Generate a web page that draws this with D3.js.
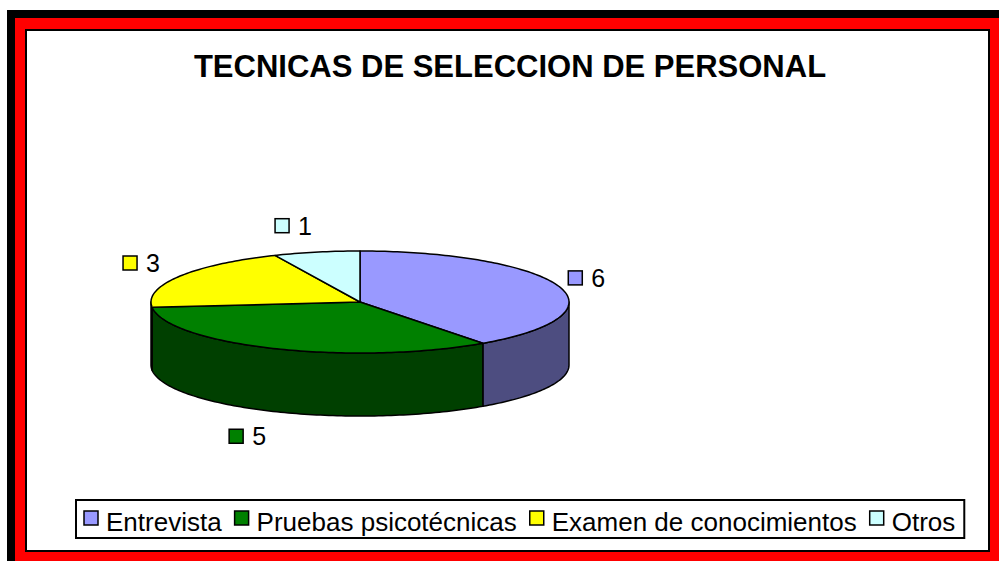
<!DOCTYPE html>
<html>
<head>
<meta charset="utf-8">
<script src="https://cdn.jsdelivr.net/npm/d3@7"></script>
<style>
  body { margin: 0; background: #fff; }
  text { font-family: Arial, "Liberation Sans", sans-serif; }
</style>
</head>
<body>
<div id="chart"></div>
<script>
// data
var categories = ["Entrevista", "Pruebas psicotécnicas", "Examen de conocimientos", "Otros"];
var values = [6, 5, 3, 1];
var topColors = ["#9999FF", "#008000", "#FFFF00", "#CCFFFF"];
var sideColors = ["#4D4D80", "#004000", "#808000", "#668080"];
var title = "TECNICAS DE SELECCION DE PERSONAL";

var W = 999, H = 561;

var svg = d3.select("#chart")
    .append("svg")
    .attr("width", W)
    .attr("height", H);

// frame: black shadow, red band, white plot area
svg.append("rect").attr("x", 7).attr("y", 10).attr("width", W - 7).attr("height", H - 10).attr("fill", "#000");
svg.append("rect").attr("x", 15).attr("y", 18).attr("width", W - 15).attr("height", H - 18).attr("fill", "#FF0000");
svg.append("rect").attr("x", 26).attr("y", 30).attr("width", 963).attr("height", 521)
    .attr("fill", "#fff").attr("stroke", "#000").attr("stroke-width", 2);

svg.append("text")
    .attr("x", 510).attr("y", 77)
    .attr("text-anchor", "middle")
    .style("font-size", "31px").style("font-weight", "bold")
    .text(title);

// pie geometry (3d ellipse)
var cx = 360, cy = 302, rx = 209, ry = 51, depth = 63;

var arcs = d3.pie().sort(null).value(function(d) { return d; })(values);

function pt(a, dy) {
  return [cx + rx * Math.sin(a), cy - ry * Math.cos(a) + (dy || 0)];
}
function arcPts(a0, a1, dy) {
  var n = Math.max(2, Math.ceil(Math.abs(a1 - a0) / 0.02));
  return d3.range(n + 1).map(function(i) { return pt(a0 + (a1 - a0) * i / n, dy); });
}
var line = d3.line().curve(d3.curveLinear);

var g = svg.append("g");

// side walls, only the front half shows
arcs.forEach(function(d, i) {
  var s = Math.max(d.startAngle, Math.PI / 2),
      e = Math.min(d.endAngle, 3 * Math.PI / 2);
  if (s >= e) return;
  var p = arcPts(s, e, 0).concat(arcPts(e, s, depth));
  g.append("path")
    .attr("d", line(p) + "Z")
    .attr("fill", sideColors[i])
    .attr("stroke", "#000").attr("stroke-width", 1.5)
    .attr("stroke-linejoin", "round");
});

// top faces
arcs.forEach(function(d, i) {
  var p = [[cx, cy]].concat(arcPts(d.startAngle, d.endAngle, 0));
  g.append("path")
    .attr("d", line(p) + "Z")
    .attr("fill", topColors[i])
    .attr("stroke", "#000").attr("stroke-width", 1.5)
    .attr("stroke-linejoin", "round");
});

// data labels
arcs.forEach(function(d, i) {
  var mid = (d.startAngle + d.endAngle) / 2;
  var lg = svg.append("g");
  lg.append("rect")
    .attr("x", 0).attr("y", -7).attr("width", 14).attr("height", 14)
    .attr("fill", topColors[i]).attr("stroke", "#000").attr("stroke-width", 1.5);
  var t = lg.append("text")
    .attr("x", 23).attr("y", 9)
    .style("font-size", "25px")
    .text(values[i]);
  var w = 23 + t.node().getComputedTextLength();
  var s = Math.sin(mid), c = Math.cos(mid);
  var x = cx + (rx + (s >= 0 ? 10 : 22)) * s + (s >= 0 ? 1 : -1) * w / 2;
  var y = cy - (ry + 27) * c + (c < 0 ? depth : 0);
  lg.attr("transform", "translate(" + (x - w / 2) + "," + y + ")");
});

// legend
var legend = svg.append("g");
var lx0 = 76, lx = lx0 + 8, ly = 519, lend = lx;
categories.forEach(function(name, i) {
  legend.append("rect")
    .attr("x", lx).attr("y", ly - 8).attr("width", 14).attr("height", 14)
    .attr("fill", topColors[i]).attr("stroke", "#000").attr("stroke-width", 1.5);
  var t = legend.append("text")
    .attr("x", lx + 22).attr("y", ly + 12)
    .style("font-size", "26px")
    .text(name);
  lend = lx + 22 + t.node().getComputedTextLength();
  lx = lend + 13;
});
legend.insert("rect", ":first-child")
    .attr("x", lx0).attr("y", 500).attr("width", lend + 9 - lx0).attr("height", 38)
    .attr("fill", "#fff").attr("stroke", "#000").attr("stroke-width", 2);
</script>
</body>
</html>
